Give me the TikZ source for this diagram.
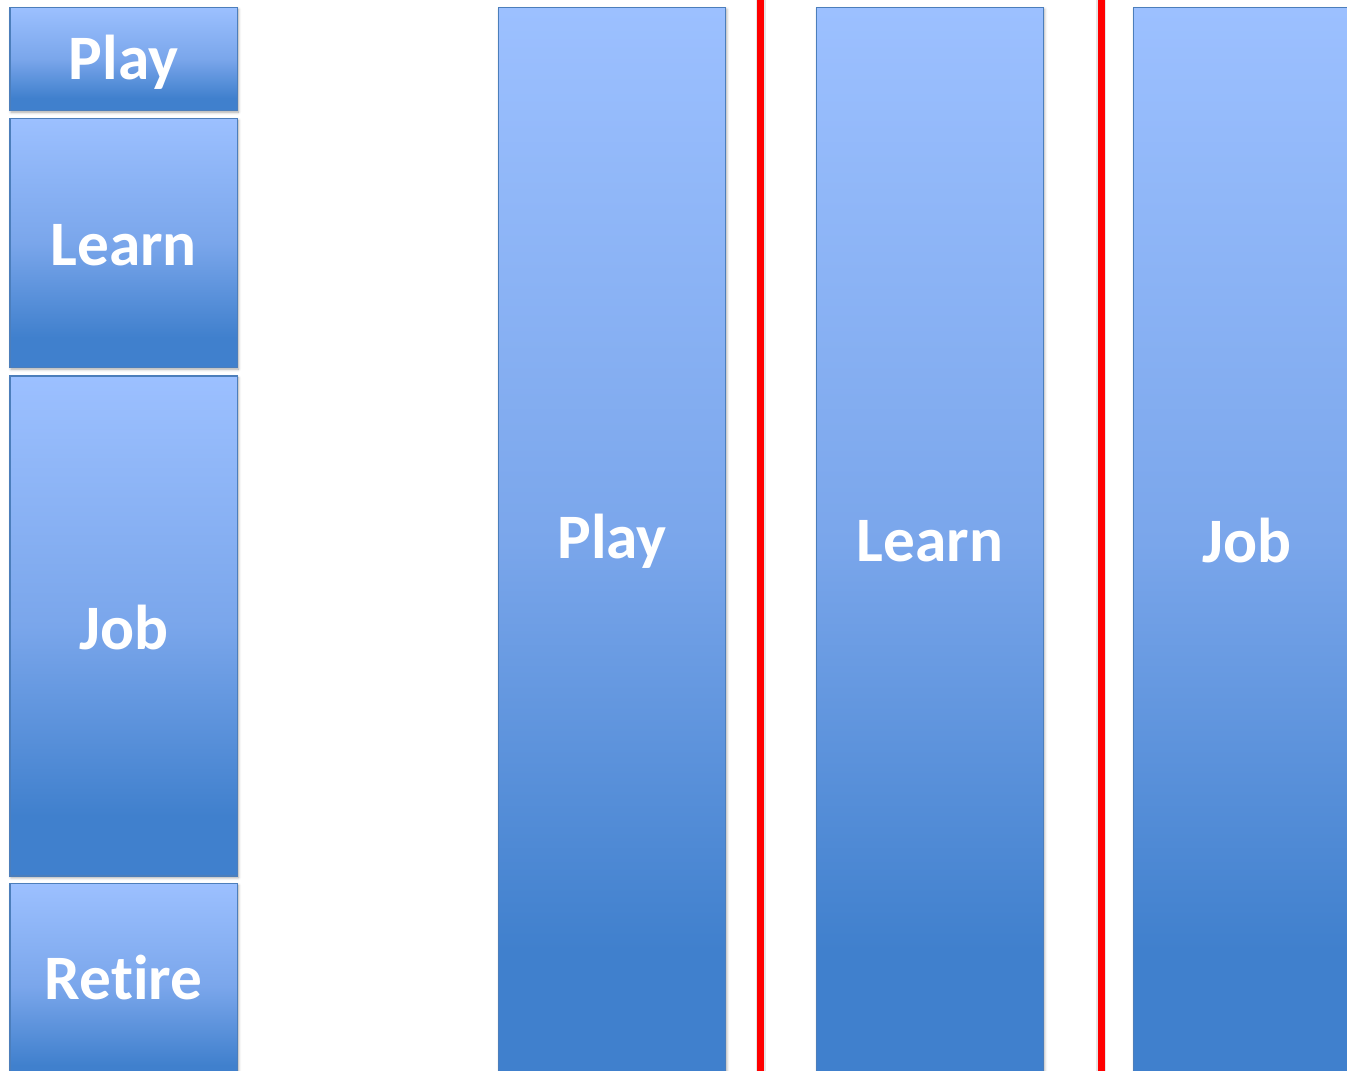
\documentclass[tikz,border=0pt]{standalone}
\usepackage{fontspec}
\setmainfont{Carlito}[Ligatures=NoCommon]
\usetikzlibrary{shadows.blur}

\definecolor{blight}{HTML}{9CC0FF}
\definecolor{bmid}{HTML}{7AA6EB}
\definecolor{bdark}{HTML}{4080CD}
\definecolor{bedge}{HTML}{4C7EBB}

% light at the top, dark from about 88% of the height down
\pgfdeclareverticalshading{officeblue}{100bp}{%
  color(0bp)=(bdark); color(31bp)=(bdark); color(50bp)=(bmid);
  color(75bp)=(blight); color(100bp)=(blight)}

\tikzset{
  barbox/.style={draw=bedge, line width=1pt, shading=officeblue,
    blur shadow={shadow xshift=0.8pt, shadow yshift=-1.3pt,
      shadow blur radius=2pt, shadow opacity=35}},
  barlabel/.style={text=white, font=\fontsize{47.5}{56}\selectfont\bfseries,
    inner sep=0pt},
  divider/.style={draw=red, line width=5.4pt,
    preaction={draw=black!10, line width=7.5pt}}
}

\begin{document}
\begin{tikzpicture}[x=0.75pt, y=-0.75pt]
  \useasboundingbox (0,0) rectangle (1347,1071);
  \clip (0,0) rectangle (1347,1071);

  % stacked life stages on the left
  \path[barbox] (10,7.5) rectangle (237.3,110.5);
  \node[barlabel] (lplay) at (123.6,62) {Play};
  \path[barbox] (10,118.5) rectangle (237.3,367.5);
  \node[barlabel] (llearn) at (123.6,245) {Learn};
  \path[barbox] (10,376) rectangle (237.3,876);
  \node[barlabel] (ljob) at (123.6,628) {Job};
  \path[barbox] (10,883.5) rectangle (237.3,1090);
  \node[barlabel] (lretire) at (123.6,978) {Retire};

  % separated columns on the right
  \path[barbox] (498.5,7.5) rectangle (725.7,1078);
  \node[barlabel] (rplay) at (612,541) {Play};
  \path[barbox] (816.5,7.5) rectangle (1043.5,1078);
  \node[barlabel] (rlearn) at (930,541) {Learn};
  \path[barbox] (1133.5,7.5) rectangle (1360,1078);
  \node[barlabel] (rjob) at (1247,541) {Job};

  % red dividers
  \coordinate (d1t) at (760.8,-5);
  \coordinate (d1b) at (760.8,1080);
  \coordinate (d2t) at (1101.2,-5);
  \coordinate (d2b) at (1101.2,1080);
  \draw[divider] (d1t) -- (d1b);
  \draw[divider] (d2t) -- (d2b);
\end{tikzpicture}
\end{document}
